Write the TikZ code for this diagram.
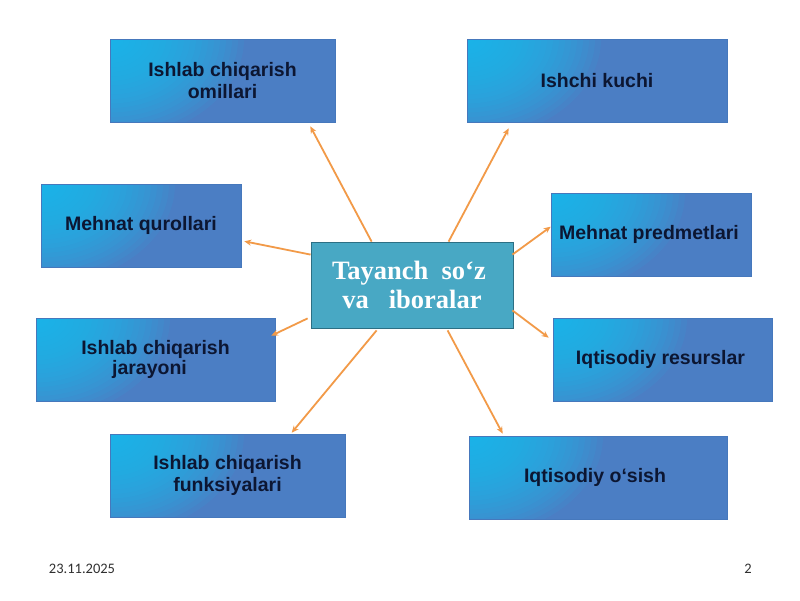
\documentclass[tikz,border=0pt]{standalone}
\usepackage{fontspec}
\setmainfont{Liberation Sans}
\newfontfamily\serifb{Liberation Serif}
\newfontfamily\footf{Carlito}
\usetikzlibrary{arrows.meta,calc}
\definecolor{boxblue}{HTML}{4B7EC4}
\definecolor{boxcyan}{HTML}{18C0F2}
\definecolor{boxedge}{HTML}{4678BC}
\definecolor{txtnavy}{HTML}{0C1632}
\definecolor{centfill}{HTML}{48A8C4}
\definecolor{centedge}{HTML}{2C6F84}
\definecolor{arrorange}{HTML}{F29A48}
\definecolor{footgray}{HTML}{303030}
\tikzset{
  kbox/.style={draw=boxedge, line width=0.6pt, fill=boxblue, inner sep=0pt,
    text=txtnavy, align=center,
    font=\fontsize{19.5}{22}\selectfont\bfseries,
    path picture={
      \foreach \k in {1,...,22}{
        \fill[boxcyan, fill opacity=0.085]
          (path picture bounding box.north west)
          ellipse ({140-6*\k} and {105-4.5*\k});
      }}},
  cbox/.style={draw=centedge, line width=0.8pt, fill=centfill, text=white,
    align=center, minimum width=202pt, minimum height=86pt,
    font=\serifb\fontsize{26.5}{34}\selectfont\bfseries},
  karrow/.style={draw=arrorange, line width=1.8pt,
    -{Stealth[length=7pt,width=6pt]}},
  foot/.style={font=\footf\fontsize{14.5}{16}\selectfont, text=footgray}
}
\begin{document}
\begin{tikzpicture}[x=1pt,y=-1pt]
\useasboundingbox (0,0) rectangle (800,600);
\fill[white] (0,0) rectangle (800,600);

\node[cbox] (c) at (412,285) {\hspace*{-6pt}Tayanch\ \ so‘z\\[-5pt]va\ \ \ iboralar};

\node[kbox, minimum width=225pt, minimum height=83pt] (b1) at (222.5,80.5)
  {Ishlab chiqarish\\omillari};
\node[kbox, minimum width=260pt, minimum height=83pt] (b2) at (597,80.5)
  {Ishchi kuchi};
\node[kbox, minimum width=200pt, minimum height=83pt] (b3) at (141,225.5)
  {Mehnat qurollari};
\node[kbox, minimum width=200pt, minimum height=83pt] (b4) at (651,234.5)
  {\hspace*{-4pt}Mehnat predmetlari};
\node[kbox, minimum width=239pt, minimum height=83pt,
  font=\fontsize{19.5}{16}\selectfont\bfseries] (b5) at (155.5,359.5)
  {Ishlab chiqarish\\\hspace*{-12pt}jarayoni};
\node[kbox, minimum width=219pt, minimum height=83pt] (b6) at (662.5,359.5)
  {\hspace*{-4pt}Iqtisodiy resurslar};
\node[kbox, minimum width=235pt, minimum height=83pt] (b7) at (227.5,475.5)
  {Ishlab chiqarish\\funksiyalari};
\node[kbox, minimum width=258pt, minimum height=83pt] (b8) at (598,477.5)
  {\hspace*{-6pt}Iqtisodiy o‘sish};

\draw[karrow] ($(c.north west)+(61,0)$) -- ($(b1.south east)+(-25,4)$);
\draw[karrow] ($(c.north west)+(138,0)$) -- ($(b2.south west)+(42,6)$);
\draw[karrow] ($(c.north west)+(0,13)$) -- ($(b3.south east)+(3,-26)$);
\draw[karrow] ($(c.north east)+(-1,13)$) -- ($(b4.north west)+(0,34)$);
\draw[karrow] ($(c.south west)+(-3,-10)$) -- ($(b5.north east)+(-4,18)$);
\draw[karrow] ($(c.south east)+(-1,-18)$) -- ($(b6.north west)+(-4,20)$);
\draw[karrow] ($(c.south west)+(66,2)$) -- ($(b7.north west)+(182,-1)$);
\draw[karrow] ($(c.south west)+(137,2)$) -- ($(b8.north west)+(34,-2)$);

\node[foot] (date) at (82,569) {23.11.2025};
\node[foot] (page) at (748,569) {2};
\end{tikzpicture}
\end{document}
